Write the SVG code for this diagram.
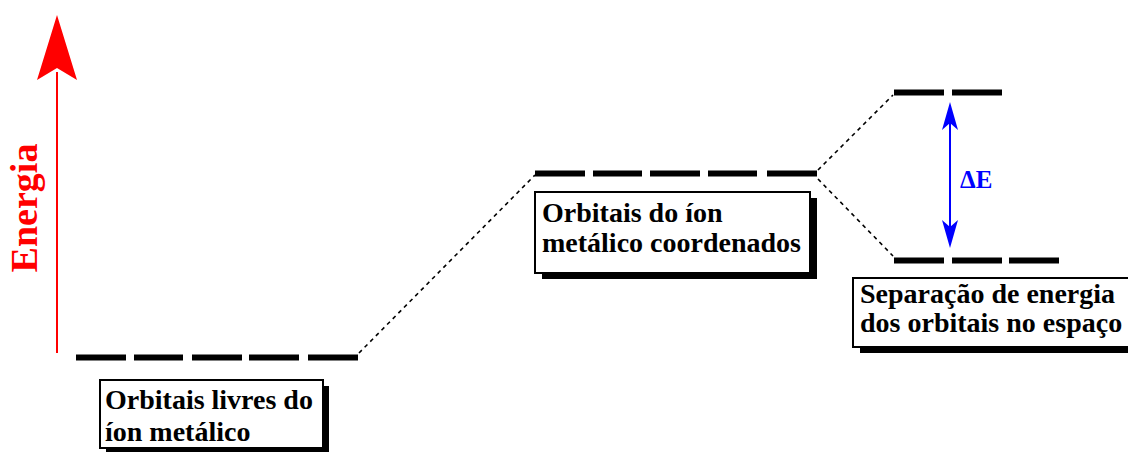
<svg xmlns="http://www.w3.org/2000/svg" width="1128" height="452" viewBox="0 0 1128 452">
<style>
.lvl{stroke:#000;stroke-width:6;stroke-linecap:butt}
.dot{stroke:#000;stroke-width:1.6;stroke-dasharray:4 4;fill:none}
.box{fill:#fff;stroke:#000;stroke-width:2}
.shadow{fill:#000}
</style>
<rect width="1128" height="452" fill="#fff"/>
<g id="energy-axis">
<line x1="57" y1="353" x2="57" y2="72" stroke="#f00" stroke-width="2"/>
<polygon points="57,15 77,80 57,68 37,80" fill="#f00"/>
<text transform="translate(37,208) rotate(-90)" text-anchor="middle" font-family="Liberation Serif,serif" font-weight="bold" font-size="38" fill="#f00">Energia</text>
</g>
<g id="connectors">
<line class="dot" x1="359" y1="353" x2="535" y2="175"/>
<line class="dot" x1="818" y1="170" x2="893" y2="95"/>
<line class="dot" x1="818" y1="179" x2="893" y2="256"/>
</g>
<g id="level-free">
<line class="lvl" x1="76" y1="357.5" x2="126" y2="357.5"/>
<line class="lvl" x1="134" y1="357.5" x2="183" y2="357.5"/>
<line class="lvl" x1="192" y1="357.5" x2="242" y2="357.5"/>
<line class="lvl" x1="249" y1="357.5" x2="299" y2="357.5"/>
<line class="lvl" x1="308" y1="357.5" x2="358" y2="357.5"/>
</g>
<g id="level-coord">
<line class="lvl" x1="535" y1="173.5" x2="585" y2="173.5"/>
<line class="lvl" x1="593" y1="173.5" x2="642" y2="173.5"/>
<line class="lvl" x1="650" y1="173.5" x2="700" y2="173.5"/>
<line class="lvl" x1="708" y1="173.5" x2="757" y2="173.5"/>
<line class="lvl" x1="767" y1="173.5" x2="817" y2="173.5"/>
</g>
<g id="level-upper">
<line class="lvl" x1="894" y1="92.5" x2="944" y2="92.5"/>
<line class="lvl" x1="952" y1="92.5" x2="1002" y2="92.5"/>
</g>
<g id="level-lower">
<line class="lvl" x1="894" y1="260.5" x2="944" y2="260.5"/>
<line class="lvl" x1="952" y1="260.5" x2="1002" y2="260.5"/>
<line class="lvl" x1="1009" y1="260.5" x2="1059" y2="260.5"/>
</g>
<g id="delta-e">
<line x1="950" y1="120" x2="950" y2="230" stroke="#00f" stroke-width="2"/>
<polygon points="950,102 958,130 950,123 942,130" fill="#00f"/>
<polygon points="950,248 958,220 950,227 942,220" fill="#00f"/>
<text x="960" y="188" font-family="Liberation Serif,serif" font-weight="bold" font-size="25" fill="#00f">ΔE</text>
</g>
<g id="box-free" font-family="Liberation Serif,serif" font-weight="bold" font-size="28" fill="#000">
<rect class="shadow" x="106" y="386" width="223" height="68"/>
<rect class="box" x="100" y="380" width="223" height="68"/>
<text x="105" y="409">Orbitais livres do</text>
<text x="105" y="441">íon metálico</text>
</g>
<g id="box-coord" font-family="Liberation Serif,serif" font-weight="bold" font-size="28" fill="#000">
<rect class="shadow" x="542" y="198" width="275" height="81"/>
<rect class="box" x="535" y="192" width="275" height="81"/>
<text x="542" y="222">Orbitais do íon</text>
<text x="542" y="252">metálico coordenados</text>
</g>
<g id="box-split" font-family="Liberation Serif,serif" font-weight="bold" font-size="28" fill="#000">
<rect class="shadow" x="860" y="284" width="290" height="69"/>
<rect class="box" x="853" y="278" width="290" height="69"/>
<text x="860" y="303">Separação de energia</text>
<text x="860" y="332">dos orbitais no espaço</text>
</g>
</svg>
